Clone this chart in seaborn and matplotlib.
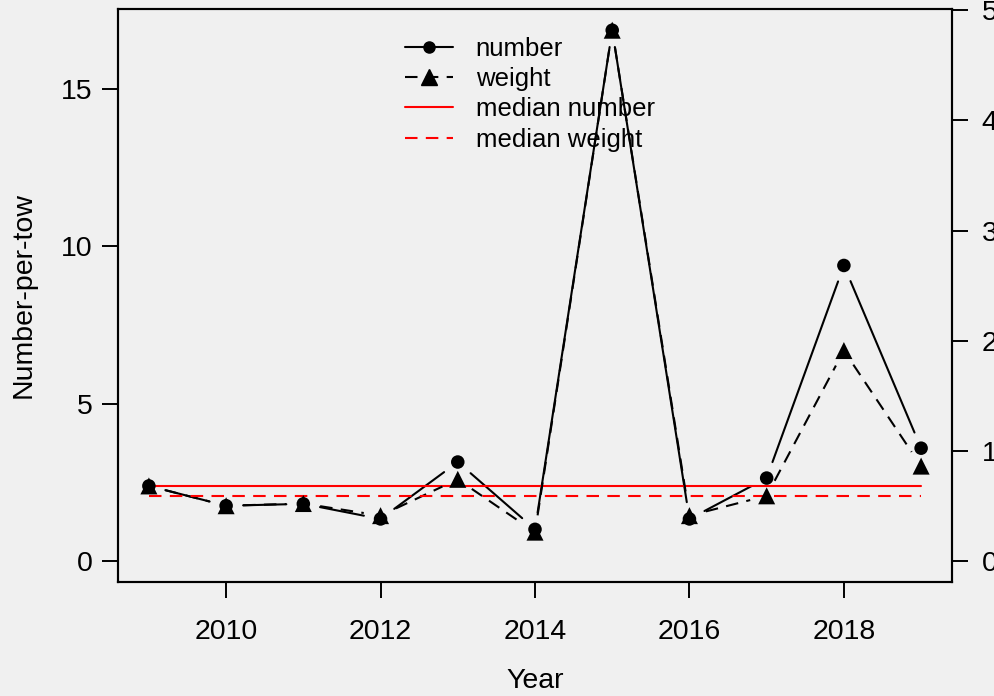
import numpy as np
import pandas as pd
import matplotlib
matplotlib.use('Agg')
import matplotlib.pyplot as plt
from matplotlib.lines import Line2D
import seaborn as sns

# values
years = [2009, 2010, 2011, 2012, 2013, 2014, 2015, 2016, 2017, 2018, 2019]
number = [2.38, 1.75, 1.81, 1.33, 3.14, 1.00, 16.87, 1.33, 2.63, 9.39, 3.58]
weight = [0.68, 0.50, 0.52, 0.41, 0.74, 0.26, 4.82, 0.41, 0.59, 1.91, 0.86]
x_ticks = [2010, 2012, 2014, 2016, 2018]
left_ticks = [0, 5, 10, 15]
right_ticks = [0, 1, 2, 3, 4, 5]

df = pd.DataFrame({'Year': years, 'number': number, 'weight': weight})
med_number = np.median(number)
med_weight = np.median(weight)

bg = '#F0F0F0'
sns.set_theme(style='ticks')
plt.rcParams['font.family'] = ['Liberation Sans', 'DejaVu Sans']
plt.rcParams['text.color'] = 'black'
plt.rcParams['axes.labelcolor'] = 'black'
plt.rcParams['axes.linewidth'] = 1.5
plt.rcParams['axes.edgecolor'] = 'black'


def gapped_line(ax, x, y, gap_px, **kw):
    # R style type="b": line segments stop short of the points
    pts = ax.transData.transform(np.column_stack([x, y]))
    inv = ax.transData.inverted()
    for p0, p1 in zip(pts[:-1], pts[1:]):
        d = p1 - p0
        length = np.hypot(*d)
        if length <= 2 * gap_px:
            continue
        u = d / length
        seg = inv.transform(np.array([p0 + u * gap_px, p1 - u * gap_px]))
        ax.plot(seg[:, 0], seg[:, 1], **kw)


fig = plt.figure(figsize=(9.94, 6.96), dpi=100, facecolor=bg)
ax = fig.add_axes([118 / 994, 1 - 582 / 696, (952 - 118) / 994, (582 - 9) / 696])
ax.set_facecolor(bg)
ax2 = ax.twinx()
ax2.patch.set_visible(False)

ax.set_xlim(min(years) - 0.04 * (max(years) - min(years)),
            max(years) + 0.04 * (max(years) - min(years)))
ax.set_ylim(-0.04 * max(number), 1.04 * max(number))
ax2.set_ylim(-0.04 * max(weight), 1.04 * max(weight))

dash = (6, 4)
gapped_line(ax, df['Year'], df['number'], 17, color='black', lw=1.5, zorder=2)
gapped_line(ax2, df['Year'], df['weight'], 17, color='black', lw=1.5,
            dashes=dash, zorder=2)

sns.scatterplot(data=df, x='Year', y='number', ax=ax, marker='o', s=95,
                color='black', edgecolor='none', zorder=3, legend=False)
sns.scatterplot(data=df, x='Year', y='weight', ax=ax2, marker='^', s=150,
                color='black', edgecolor='none', zorder=3, legend=False)

ax.plot([min(years), max(years)], [med_number, med_number], color='red', lw=1.5, zorder=2.5)
ax2.plot([min(years), max(years)], [med_weight, med_weight], color='red', lw=1.5,
         dashes=dash, zorder=2.5)

for a in (ax, ax2):
    for s in a.spines.values():
        s.set_visible(True)
        s.set_linewidth(1.5)
    a.tick_params(direction='out', length=11.5, width=1.4, labelsize=20.5,
                  colors='black', pad=7)

ax.set_xticks(x_ticks)
ax.set_yticks(left_ticks)
ax2.set_yticks(right_ticks)
ax.tick_params(axis='x', pad=15)
ax2.tick_params(axis='y', pad=10)

ax.set_xlabel('Year', fontsize=20.5)
ax.set_ylabel('Number-per-tow', fontsize=20.5)
ax2.set_ylabel('')
ax.xaxis.label.set_va('center')
ax.yaxis.label.set_va('center')
ax.xaxis.set_label_coords(0.5, (582 - 681) / 573)
ax.yaxis.set_label_coords((24 - 118) / 834, 0.5)

handles = [
    Line2D([], [], color='black', lw=1.5, marker='o', markersize=8),
    Line2D([], [], color='black', lw=1.5, dashes=dash, marker='^', markersize=11),
    Line2D([], [], color='red', lw=1.5),
    Line2D([], [], color='red', lw=1.5, dashes=dash),
]
labels = ['number', 'weight', 'median number', 'median weight']
ax2.legend(handles, labels, loc='upper left', bbox_to_anchor=((405 - 118) / 834, 1 - (37 - 9) / 573),
           frameon=False, fontsize=18.5, handlelength=1.85, handletextpad=0.9,
           labelspacing=0.24, borderpad=0, borderaxespad=0)

fig.savefig('out.png', dpi=100, facecolor=bg)
